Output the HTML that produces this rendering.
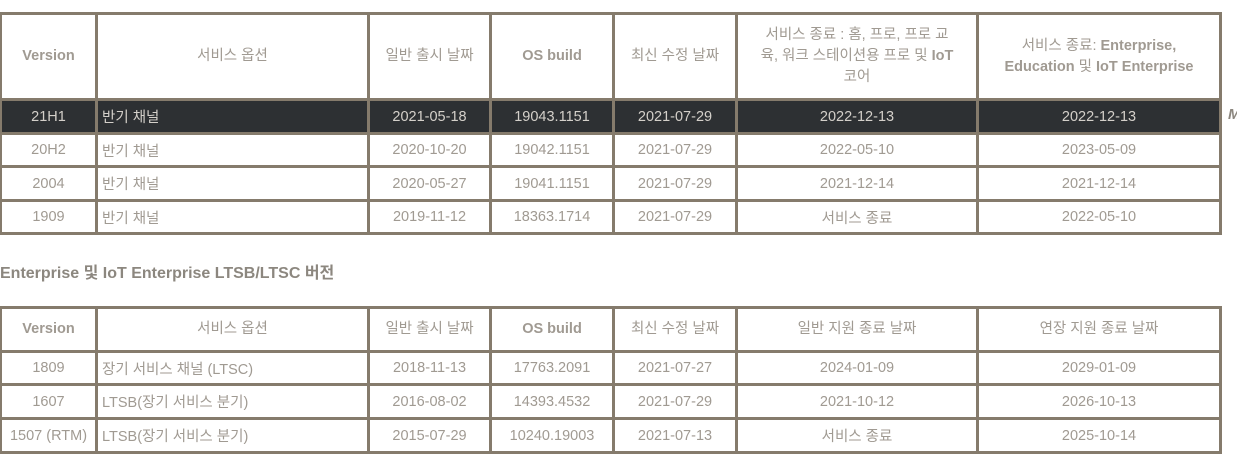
<!DOCTYPE html>
<html><head><meta charset="utf-8"><style>
body{margin:0;width:1237px;height:453px;background:#fff;overflow:hidden;position:relative;font-family:"Liberation Sans","Noto Sans CJK KR",sans-serif;color:#a09a92;}
table{position:absolute;left:-1px;border-collapse:collapse;table-layout:fixed;width:1220px;font-size:14.5px;}
td,th{border:3px solid #857b6c;text-align:center;padding:0 4px;overflow:hidden;white-space:nowrap;}
th{font-weight:normal;line-height:21px;}
th b{font-weight:bold;}
td.l{text-align:left;}
tr.sel td{background:#2d3033;color:#d4d0ca;}
#t1{top:12px}#t2{top:306px}
h3{position:absolute;left:0;top:259px;margin:0;font-size:16px;font-weight:bold;color:#8c877f;}
#m{position:absolute;left:1228px;top:106px;font-style:italic;font-weight:bold;font-size:15px;color:#8c877f;}
</style></head><body>
<table id="t1">
<colgroup><col style="width:96px"><col style="width:272px"><col style="width:122px"><col style="width:123px"><col style="width:123px"><col style="width:241px"><col style="width:243px"></colgroup>
<tr style="height:86px"><th><b>Version</b></th><th>서비스 옵션</th><th>일반 출시 날짜</th><th><b>OS build</b></th><th>최신 수정 날짜</th><th>서비스 종료 : 홈, 프로, 프로 교<br>육, 워크 스테이션용 프로 및 <b>IoT</b><br>코어</th><th>서비스 종료: <b>Enterprise,</b><br><b>Education</b> 및 <b>IoT Enterprise</b></th></tr>
<tr class="sel" style="height:34px"><td>21H1</td><td class="l">반기 채널</td><td>2021-05-18</td><td>19043.1151</td><td>2021-07-29</td><td>2022-12-13</td><td>2022-12-13</td></tr>
<tr style="height:33px"><td>20H2</td><td class="l">반기 채널</td><td>2020-10-20</td><td>19042.1151</td><td>2021-07-29</td><td>2022-05-10</td><td>2023-05-09</td></tr>
<tr style="height:34px"><td>2004</td><td class="l">반기 채널</td><td>2020-05-27</td><td>19041.1151</td><td>2021-07-29</td><td>2021-12-14</td><td>2021-12-14</td></tr>
<tr style="height:33px"><td>1909</td><td class="l">반기 채널</td><td>2019-11-12</td><td>18363.1714</td><td>2021-07-29</td><td>서비스 종료</td><td>2022-05-10</td></tr>
</table>
<div id="m">M</div>
<h3>Enterprise 및 IoT Enterprise LTSB/LTSC 버전</h3>
<table id="t2">
<colgroup><col style="width:96px"><col style="width:272px"><col style="width:122px"><col style="width:123px"><col style="width:123px"><col style="width:241px"><col style="width:243px"></colgroup>
<tr style="height:44px"><th><b>Version</b></th><th>서비스 옵션</th><th>일반 출시 날짜</th><th><b>OS build</b></th><th>최신 수정 날짜</th><th>일반 지원 종료 날짜</th><th>연장 지원 종료 날짜</th></tr>
<tr style="height:33px"><td>1809</td><td class="l">장기 서비스 채널 (LTSC)</td><td>2018-11-13</td><td>17763.2091</td><td>2021-07-27</td><td>2024-01-09</td><td>2029-01-09</td></tr>
<tr style="height:34px"><td>1607</td><td class="l">LTSB(장기 서비스 분기)</td><td>2016-08-02</td><td>14393.4532</td><td>2021-07-29</td><td>2021-10-12</td><td>2026-10-13</td></tr>
<tr style="height:34px"><td style="padding:0">1507 (RTM)</td><td class="l">LTSB(장기 서비스 분기)</td><td>2015-07-29</td><td>10240.19003</td><td>2021-07-13</td><td>서비스 종료</td><td>2025-10-14</td></tr>
</table>
</body></html>
